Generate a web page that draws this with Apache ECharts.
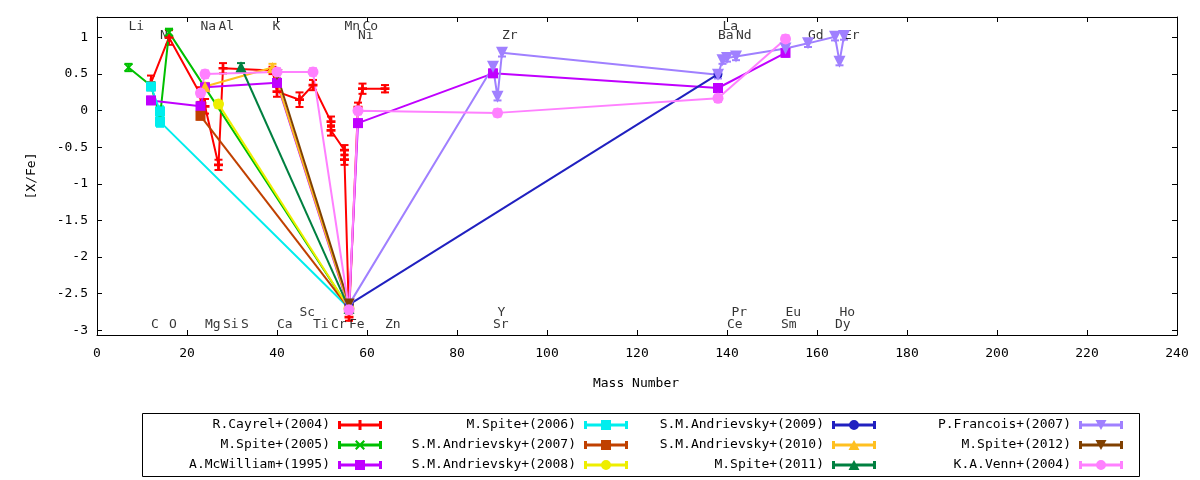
<!DOCTYPE html>
<html>
<head>
<meta charset="utf-8">
<script src="https://cdn.jsdelivr.net/npm/echarts@6/dist/echarts.min.js"></script>
<style>html,body{margin:0;padding:0;background:#fff}#c{width:1200px;height:480px}</style>
</head>
<body>
<div id="c"></div>
<script>
// ---------------- data ----------------
const yTickValues = [-3, -2.5, -2, -1.5, -1, -0.5, 0, 0.5, 1];

const elementNames   = ['Li','Na','Al','K','Mn','Co','La',
                        'N','Ni','Zr','Ba','Nd','Gd','Er',
                        'C','O','Mg','Si','S','Ca','Ti','Cr','Fe','Zn','Sr','Ce','Sm','Dy',
                        'Sc','Y','Pr','Eu','Ho'];
const elementMass    = [7,23,27,39,55,59,139,
                        14,58,90,138,142,158,166,
                        12,16,24,28,32,40,48,52,56,64,88,140,152,164,
                        45,89,141,153,165];
const elementLabelY  = [1.15,1.15,1.15,1.15,1.15,1.15,1.15,
                        1.02,1.02,1.02,1.02,1.02,1.02,1.02,
                        -2.92,-2.92,-2.92,-2.92,-2.92,-2.92,-2.92,-2.92,-2.92,-2.92,-2.92,-2.92,-2.92,-2.92,
                        -2.76,-2.76,-2.76,-2.76,-2.76];

// [mass number, [X/Fe], error]
const cayrel2004 = [[12,0.38,0.1],[16,1.0,0.1],[23,0.22,0.1],[24,0.06,0.1],[27,-0.74,0.07],[28,0.58,0.07],
                    [39,0.55,0.05],[40,0.26,0.07],[45,0.15,0.1],[48,0.35,0.07],[52,-0.15,0.07],[52,-0.27,0.07],
                    [55,-0.54,0.07],[55,-0.67,0.07],[56,-2.82,0.05],[58,0.05,0.06],[59,0.3,0.07],[64,0.3,0.05]];
const spite2005 = [[7,0.59,0.05],[12,0.34,0.05],[14,-0.08,0.05],[16,1.07,0.05],[56,-2.7,0.05]];
const mcwilliam1995 = [[12,0.14,0.05],[23,0.06,0.05],[24,0.32,0.05],[40,0.38,0.05],[56,-2.7,0.05],
                       [58,-0.17,0.05],[88,0.51,0.05],[138,0.31,0.05],[153,0.79,0.05]];
const spite2006 = [[12,0.33,0.05],[14,-0.01,0.07],[14,-0.15,0.07],[56,-2.7,0.05]];
const andrievsky2007 = [[23,-0.07,0.05],[56,-2.7,0.05]];
const andrievsky2008 = [[27,0.09,0.05],[56,-2.7,0.05]];
const andrievsky2009 = [[56,-2.65,0.05],[138,0.5,0.03]];
const andrievsky2010 = [[24,0.33,0.05],[39,0.59,0.05],[56,-2.68,0.05]];
const spite2011 = [[32,0.6,0.05],[56,-2.7,0.05]];
const francois2007 = [[56,-2.65,0.05],[88,0.6,0.05],[89,0.19,0.05],[90,0.79,0.05],[138,0.49,0.05],
                      [139,0.69,0.05],[140,0.72,0.05],[142,0.74,0.05],[153,0.85,0.05],[158,0.92,0.05],
                      [164,1.01,0.05],[165,0.67,0.05],[166,1.02,0.05]];
const spite2012 = [[40,0.49,0.05],[56,-2.64,0.05]];
const venn2004 = [[23,0.24,0.05],[24,0.5,0.05],[40,0.53,0.05],[48,0.53,0.05],[56,-2.72,0.05],
                  [58,0.0,0.05],[89,-0.03,0.05],[138,0.17,0.05],[153,0.98,0.05]];

// ---------------- styling ----------------
const FONT = 'DejaVu Sans Mono';
const PLUS = 'path://M3.5,0H6.5V3.5H10V6.5H6.5V10H3.5V6.5H0V3.5H3.5Z';
const XMARK = 'path://M0,1.5L1.5,0L5,3.5L8.5,0L10,1.5L6.5,5L10,8.5L8.5,10L5,6.5L1.5,10L0,8.5L3.5,5Z';
const ICON_BASE = 'M0,3.5H44V6.5H0Z M0,1H3V9H0Z M41,1H44V9H41Z ';
const ICON_MARK = {
  plus: 'M20.5,0H23.5V10H20.5Z',
  x: 'M17,1.5L18.5,0L22,3.5L25.5,0L27,1.5L23.5,5L27,8.5L25.5,10L22,6.5L18.5,10L17,8.5L20.5,5Z',
  square: 'M17,0H27V10H17Z',
  circle: 'M17,5A5 5 0 1 1 27,5A5 5 0 1 1 17,5Z',
  triUp: 'M22,0L27.5,10L16.5,10Z',
  triDown: 'M16.5,0L27.5,0L22,10Z'
};

const seriesDefs = [
  {name:'R.Cayrel+(2004)',       data:cayrel2004,     color:'#ff0000', symbol:PLUS,       size:9,  rot:0,   icon:'plus'},
  {name:'M.Spite+(2005)',        data:spite2005,      color:'#00c000', symbol:XMARK,      size:9,  rot:0,   icon:'x'},
  {name:'A.McWilliam+(1995)',    data:mcwilliam1995,  color:'#c000ff', symbol:'rect',     size:10, rot:0,   icon:'square'},
  {name:'M.Spite+(2006)',        data:spite2006,      color:'#00eeee', symbol:'rect',     size:10, rot:0,   icon:'square'},
  {name:'S.M.Andrievsky+(2007)', data:andrievsky2007, color:'#c04000', symbol:'rect',     size:10, rot:0,   icon:'square'},
  {name:'S.M.Andrievsky+(2008)', data:andrievsky2008, color:'#eeee00', symbol:'circle',   size:11, rot:0,   icon:'circle'},
  {name:'S.M.Andrievsky+(2009)', data:andrievsky2009, color:'#2020c0', symbol:'circle',   size:9,  rot:0,   icon:'circle'},
  {name:'S.M.Andrievsky+(2010)', data:andrievsky2010, color:'#ffc020', symbol:'triangle', size:11, rot:0,   icon:'triUp'},
  {name:'M.Spite+(2011)',        data:spite2011,      color:'#008040', symbol:'triangle', size:11, rot:0,   icon:'triUp'},
  {name:'P.Francois+(2007)',     data:francois2007,   color:'#a080ff', symbol:'triangle', size:12, rot:180, icon:'triDown'},
  {name:'M.Spite+(2012)',        data:spite2012,      color:'#804000', symbol:'triangle', size:11, rot:180, icon:'triDown'},
  {name:'K.A.Venn+(2004)',       data:venn2004,       color:'#ff80ff', symbol:'circle',   size:11, rot:0,   icon:'circle'}
];

function renderErr(params, api) {
  const x = api.value(0), y = api.value(1), e = api.value(2);
  const top = api.coord([x, y + e]);
  const bot = api.coord([x, y - e]);
  const hw = 4;
  const style = {stroke: api.visual('color'), lineWidth: 2};
  return {type: 'group', children: [
    {type:'line', shape:{x1:top[0], y1:top[1], x2:bot[0], y2:bot[1]}, style: style},
    {type:'line', shape:{x1:top[0]-hw, y1:top[1], x2:top[0]+hw, y2:top[1]}, style: style},
    {type:'line', shape:{x1:bot[0]-hw, y1:bot[1], x2:bot[0]+hw, y2:bot[1]}, style: style}
  ]};
}

const series = [];
series.push({
  type: 'scatter', name: 'elements', silent: true, symbolSize: 0,
  data: elementNames.map((n, i) => ({name: n, value: [elementMass[i], elementLabelY[i]]})),
  label: {show: true, position: 'right', distance: 0, formatter: '{b}', color: '#000',
          fontFamily: FONT, fontSize: 13}
});
seriesDefs.forEach(d => {
  series.push({
    type: 'custom', name: d.name + ' err', silent: true,
    itemStyle: {color: d.color},
    renderItem: renderErr,
    encode: {x: 0, y: 1},
    data: d.data
  });
  series.push({
    type: 'line', name: d.name, silent: true,
    data: d.data.map(p => [p[0], p[1]]),
    symbol: d.symbol, symbolSize: d.size, symbolRotate: d.rot,
    showSymbol: true, showAllSymbol: true,
    itemStyle: {color: d.color, borderWidth: 0},
    lineStyle: {color: d.color, width: 2},
    emphasis: {disabled: true}
  });
});

const legendCols = [[0,1,2],[3,4,5],[6,7,8],[9,10,11]];
const legendRight = [818, 572, 324, 77];
const legends = legendCols.map((col, ci) => ({
  orient: 'vertical', align: 'right', right: legendRight[ci], top: 418,
  padding: 0, itemWidth: 44, itemHeight: 10, itemGap: 6, selectedMode: false,
  itemStyle: {borderWidth: 0},
  textStyle: {color: '#000', fontFamily: FONT, fontSize: 13, lineHeight: 14, padding: [0, 3, 0, 0]},
  data: col.map(i => ({name: seriesDefs[i].name, icon: 'path://' + ICON_BASE + ICON_MARK[seriesDefs[i].icon]}))
}));

const axisLineStyle = {onZero: false, lineStyle: {color: '#000', width: 1}};
const tickStyle = {inside: true, length: 5, lineStyle: {color: '#000', width: 1}};

const option = {
  animation: false,
  backgroundColor: '#fff',
  grid: {left: 97, right: 23, top: 17, bottom: 145, containLabel: false},
  xAxis: [
    {type: 'value', min: 0, max: 240, interval: 20, position: 'bottom',
     axisLine: axisLineStyle, axisTick: tickStyle, splitLine: {show: false},
     axisLabel: {color: '#000', fontFamily: FONT, fontSize: 13, margin: 12}},
    {type: 'value', min: 0, max: 240, interval: 20, position: 'top',
     axisLine: axisLineStyle, axisTick: tickStyle, splitLine: {show: false},
     axisLabel: {show: false}}
  ],
  yAxis: [
    {type: 'value', min: -3.065, max: 1.28, position: 'left',
     axisLine: axisLineStyle,
     axisTick: Object.assign({customValues: yTickValues}, tickStyle),
     splitLine: {show: false},
     axisLabel: {customValues: yTickValues, color: '#000', fontFamily: FONT, fontSize: 13, margin: 9}},
    {type: 'value', min: -3.065, max: 1.28, position: 'right',
     axisLine: axisLineStyle,
     axisTick: Object.assign({customValues: yTickValues}, tickStyle),
     splitLine: {show: false},
     axisLabel: {show: false}}
  ],
  legend: legends,
  graphic: [
    {type: 'text', position: [636, 384],
     style: {text: 'Mass Number', fill: '#000', font: '13px "DejaVu Sans Mono"', textAlign: 'center', textVerticalAlign: 'middle'}},
    {type: 'text', position: [32, 176], rotation: Math.PI / 2,
     style: {text: '[X/Fe]', fill: '#000', font: '13px "DejaVu Sans Mono"', textAlign: 'center', textVerticalAlign: 'middle'}},
    {type: 'rect', shape: {x: 142.5, y: 413.5, width: 997, height: 63},
     style: {fill: 'none', stroke: '#000', lineWidth: 1}}
  ],
  series: series
};

const chart = echarts.init(document.getElementById('c'));
chart.setOption(option);
</script>
</body>
</html>
